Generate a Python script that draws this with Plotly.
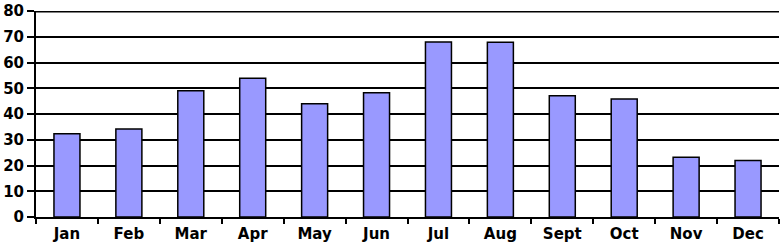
import plotly.graph_objects as go

months = ["Jan", "Feb", "Mar", "Apr", "May", "Jun", "Jul", "Aug", "Sept", "Oct", "Nov", "Dec"]
values = [32.3, 34.2, 49.0, 53.9, 44.0, 48.3, 68.0, 67.9, 47.1, 45.8, 23.2, 21.9]
y_ticks = [0, 10, 20, 30, 40, 50, 60, 70, 80]

fig = go.Figure(go.Bar(
    x=months, y=values,
    marker=dict(color="#9999FF", line=dict(color="black", width=1.5)),
))

tfont = dict(family="DejaVu Sans, Liberation Sans, sans-serif", size=15, color="black", weight="bold")

fig.update_layout(
    width=780, height=245,
    margin=dict(l=36, r=1, t=11, b=28),
    paper_bgcolor="white", plot_bgcolor="white",
    bargap=0.58,
    showlegend=False,
    xaxis=dict(
        type="category", tickson="boundaries", ticks="outside", ticklen=5,
        tickwidth=1.5, tickcolor="black", showline=True, linecolor="black",
        linewidth=2, showgrid=False, tickfont=tfont, ticklabelstandoff=2,
    ),
    yaxis=dict(
        range=[y_ticks[0], y_ticks[-1]], tickvals=y_ticks, ticks="outside", ticklen=7,
        tickwidth=1.5, tickcolor="black", showline=True, linecolor="black",
        linewidth=2, showgrid=True, gridcolor="black", gridwidth=1.5,
        zeroline=False, tickfont=tfont,
    ),
)

# top gridline (plotly drops gridlines lying on the plot edge)
fig.add_shape(type="line", xref="paper", yref="y", x0=0, x1=1,
              y0=y_ticks[-1], y1=y_ticks[-1], line=dict(color="black", width=3),
              layer="below")

fig.write_html("out.html", config={"displayModeBar": False},
               post_script="document.body.style.margin='0';")
